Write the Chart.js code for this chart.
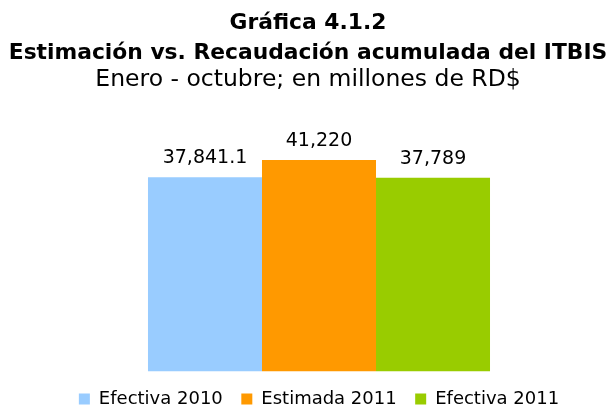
<!DOCTYPE html>
<html>
<head>
<meta charset="utf-8">
<script src="https://cdn.jsdelivr.net/npm/chart.js@4.4.1/dist/chart.umd.min.js"></script>
<style>
  html, body { margin: 0; padding: 0; background: #fff; }
  #wrap { width: 616px; height: 410px; }
</style>
</head>
<body>
<div id="wrap"><canvas id="itbis"></canvas></div>
<script>
  // Estimación vs. Recaudación acumulada del ITBIS (millones de RD$)
  const seriesNames = ['Efectiva 2010', 'Estimada 2011', 'Efectiva 2011'];
  const seriesValues = [37841.1, 41220, 37789];
  const valueLabels = ['37,841.1', '41,220', '37,789'];
  const seriesColors = ['#99CCFF', '#FF9900', '#99CC00'];

  const FONT = "'DejaVu Sans', Verdana, sans-serif";

  // Value labels drawn above each bar (no datalabels plugin available).
  const barValueLabels = {
    id: 'barValueLabels',
    afterDatasetsDraw(chart) {
      const ctx = chart.ctx;
      ctx.save();
      ctx.font = `19px ${FONT}`;
      ctx.fillStyle = '#000';
      ctx.textAlign = 'center';
      ctx.textBaseline = 'alphabetic';
      chart.data.datasets.forEach((ds, i) => {
        const bar = chart.getDatasetMeta(i).data[0];
        if (!bar) return;
        ctx.fillText(valueLabels[i], bar.x, bar.y - 14);
      });
      ctx.restore();
    }
  };

  new Chart(document.getElementById('itbis').getContext('2d'), {
    type: 'bar',
    data: {
      labels: [''],
      datasets: seriesNames.map((name, i) => ({
        label: name,
        data: [seriesValues[i]],
        backgroundColor: seriesColors[i],
        borderWidth: 0
      }))
    },
    options: {
      responsive: true,
      maintainAspectRatio: false,
      animation: false,
      layout: { padding: { left: 0, right: 0, top: 0, bottom: -8 } },
      categoryPercentage: 0.5758,
      barPercentage: 1,
      scales: {
        x: { display: false },
        y: {
          min: 0,
          max: 50000,
          ticks: { display: false },
          grid: { display: false },
          border: { display: false },
          afterFit(scale) { scale.width = 22; }
        }
      },
      plugins: {
        title: {
          display: true,
          text: ['Gráfica 4.1.2', 'Estimación vs. Recaudación acumulada del ITBIS'],
          color: '#000',
          font: { family: FONT, size: 21.8, weight: 'bold', lineHeight: 1.376 },
          padding: { top: 8.5, bottom: 0 }
        },
        subtitle: {
          display: true,
          text: 'Enero - octubre; en millones de RD$',
          color: '#000',
          font: { family: FONT, size: 23.5, weight: 'normal', lineHeight: 1.0 },
          padding: { top: 0, bottom: 23 }
        },
        legend: {
          position: 'bottom',
          fullSize: false,
          labels: {
            boxWidth: 11,
            boxHeight: 11,
            padding: 18.5,
            color: '#000',
            font: { family: FONT, size: 18 }
          }
        },
        tooltip: { enabled: false }
      }
    },
    plugins: [barValueLabels]
  });
</script>
</body>
</html>
